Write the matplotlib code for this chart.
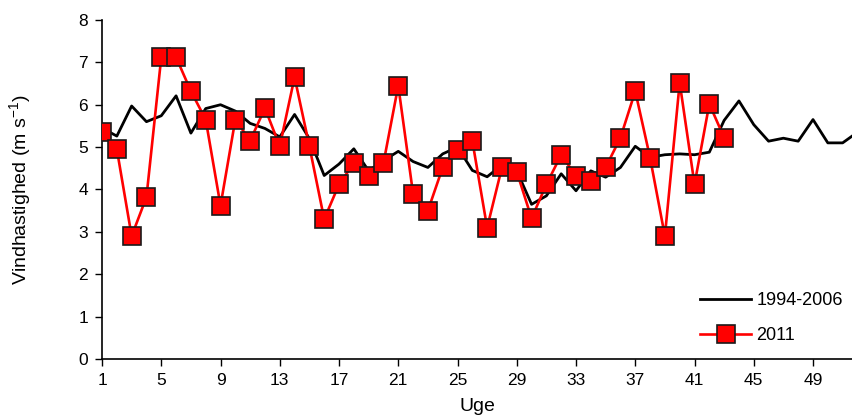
"""
Ugentlig vindhastighed: normal 1994-2006 mod 2011
"""

import numpy as np
import matplotlib.pyplot as plt

plt.rcParams['font.family'] = ['Liberation Sans', 'DejaVu Sans']

#---------------------------------------------------------------------------------------------------
# Data
#---------------------------------------------------------------------------------------------------

weeks_normal = np.arange(1, 53)
wind_normal = [5.45, 5.26, 5.97, 5.60, 5.74, 6.21, 5.33, 5.91, 6.00, 5.85,
               5.56, 5.44, 5.24, 5.77, 5.20, 4.33, 4.60, 4.96, 4.44, 4.68,
               4.90, 4.66, 4.52, 4.84, 5.00, 4.45, 4.30, 4.58, 4.44, 3.65,
               3.85, 4.37, 3.97, 4.44, 4.29, 4.52, 5.02, 4.76, 4.82, 4.84,
               4.82, 4.88, 5.63, 6.09, 5.53, 5.14, 5.21, 5.14, 5.65, 5.10,
               5.10, 5.35]

weeks_2011 = np.arange(1, 44)
wind_2011 = [5.35, 4.95, 2.90, 3.82, 7.12, 7.12, 6.32, 5.65, 3.62, 5.65,
             5.15, 5.92, 5.02, 6.65, 5.02, 3.30, 4.12, 4.62, 4.32, 4.62,
             6.45, 3.90, 3.50, 4.52, 4.92, 5.15, 3.10, 4.52, 4.42, 3.32,
             4.12, 4.82, 4.32, 4.20, 4.52, 5.22, 6.32, 4.75, 2.90, 6.52,
             4.12, 6.02, 5.22]

xticks = np.arange(1, 50, 4)
yticks = np.arange(0, 9)

#---------------------------------------------------------------------------------------------------
# Plot
#---------------------------------------------------------------------------------------------------

fig = plt.figure(figsize=(8.53, 4.16), dpi=100)
ax = fig.add_axes([0.1196, 0.137, 0.8804, 0.815])

ax.plot(weeks_normal, wind_normal, color='k', lw=2.0, label='1994-2006', zorder=2)
ax.plot(weeks_2011, wind_2011, color='#ff0000', lw=1.9, marker='s', ms=12.5,
        mfc='#ff0000', mec='#1a1a1a', mew=1.2, label='2011', zorder=3)

ax.set_xlim(1, 51.7)
ax.set_ylim(0, 8)
ax.set_xticks(xticks)
ax.set_yticks(yticks)
ax.tick_params(labelsize=12.5, length=5, width=1, direction='out', pad=5)
ax.spines['top'].set_visible(False)
ax.spines['right'].set_visible(False)
ax.spines['left'].set_linewidth(1.2)
ax.spines['bottom'].set_linewidth(1.2)

ax.set_xlabel('Uge', size=14, labelpad=7)
ax.set_ylabel('Vindhastighed (m s$^{\\mathregular{-1}}$)', size=14, labelpad=32)

ax.legend(loc='lower right', frameon=False, fontsize=13, handlelength=2.8,
          labelspacing=1.0, handletextpad=0.3, bbox_to_anchor=(1.008, -0.005))

plt.savefig('out.png', dpi=100)
